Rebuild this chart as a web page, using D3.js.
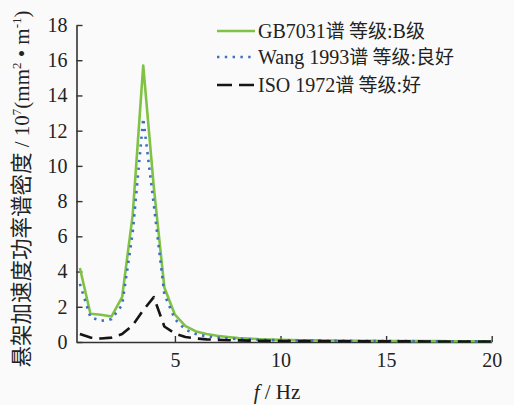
<!DOCTYPE html>
<html>
<head>
<meta charset="utf-8">
<script src="https://cdn.jsdelivr.net/npm/d3@7"></script>
<style>
  html, body { margin: 0; padding: 0; background: #fafafa; }
  svg { display: block; }
  text { font-family: "Liberation Serif", "Times New Roman", Times, "DejaVu Serif", serif; fill: #222; }
  .cjk { font-family: "Noto Sans CJK SC", sans-serif; }
</style>
</head>
<body>
<script>
const width = 514, height = 405;

// frequency points (Hz)
const freq = [0.5, 1, 1.5, 2, 2.5, 3, 3.5, 4, 4.5, 5, 5.5, 6, 6.5, 7, 7.5, 8, 8.5, 9, 9.5, 10,
  10.5, 11, 11.5, 12, 12.5, 13, 13.5, 14, 14.5, 15, 15.5, 16, 16.5, 17, 17.5, 18, 18.5, 19, 19.5, 20];

// PSD values, 10^7 (mm^2·m^-1)
const gb7031 = [4.2, 1.6, 1.55, 1.45, 2.55, 7.2, 15.7, 8.8, 3.1, 1.55, 0.9, 0.6, 0.45, 0.35, 0.28, 0.22, 0.19, 0.16, 0.14, 0.12,
  0.11, 0.1, 0.095, 0.09, 0.085, 0.08, 0.075, 0.07, 0.065, 0.06, 0.058, 0.055, 0.052, 0.05, 0.048, 0.046, 0.044, 0.042, 0.04, 0.04];
const wang1993 = [3.3, 1.4, 1.2, 1.3, 2.1, 6.2, 12.7, 7.8, 2.7, 1.3, 0.7, 0.45, 0.32, 0.25, 0.2, 0.17, 0.15, 0.13, 0.11, 0.1,
  0.09, 0.085, 0.08, 0.075, 0.07, 0.065, 0.06, 0.058, 0.055, 0.052, 0.05, 0.048, 0.046, 0.044, 0.042, 0.04, 0.038, 0.037, 0.036, 0.035];
const iso1972 = [0.45, 0.25, 0.2, 0.25, 0.45, 0.95, 1.8, 2.55, 0.88, 0.48, 0.28, 0.2, 0.15, 0.12, 0.1, 0.09, 0.08, 0.07, 0.065, 0.06,
  0.055, 0.05, 0.048, 0.046, 0.044, 0.042, 0.04, 0.038, 0.037, 0.036, 0.035, 0.034, 0.033, 0.032, 0.031, 0.03, 0.03, 0.03, 0.03, 0.03];

const xTicks = [5, 10, 15, 20];
const yTicks = [0, 2, 4, 6, 8, 10, 12, 14, 16, 18];

// legend text split into latin / chinese pieces so each gets its own font
const legendParts = [
  [["GB7031", 0], ["谱 等级", 1], [":B", 0], ["级", 1]],
  [["Wang 1993", 0], ["谱 等级", 1], [":", 0], ["良好", 1]],
  [["ISO 1972", 0], ["谱 等级", 1], [":", 0], ["好", 1]]
];

const series = [
  { values: gb7031, color: "#80c244", width: 2.6, dash: null },
  { values: wang1993, color: "#3b6fc4", width: 2.6, dash: "2.4,5.4" },
  { values: iso1972, color: "#151515", width: 2.6, dash: "13,7" }
];

const svg = d3.select("body").append("svg")
  .attr("width", width)
  .attr("height", height);

const x = d3.scaleLinear().domain([0.34, 20]).range([76.5, 491.7]);
const y = d3.scaleLinear().domain([0, 18]).range([342, 25]);

// axes
const axisColor = "#333";
const xAxis = svg.append("g")
  .attr("transform", `translate(0,${y(0)})`)
  .call(d3.axisBottom(x).tickValues(xTicks).tickSize(-6).tickSizeOuter(0).tickPadding(10));
const yAxis = svg.append("g")
  .attr("transform", `translate(${x.range()[0]},0)`)
  .call(d3.axisLeft(y).tickValues(yTicks).tickSize(-6).tickSizeOuter(0).tickPadding(10));

[xAxis, yAxis].forEach(g => {
  g.attr("font-family", null);
  g.select(".domain").attr("stroke", axisColor).attr("stroke-width", 1.6);
  g.selectAll(".tick line").attr("stroke", axisColor).attr("stroke-width", 1.4);
  g.selectAll(".tick text")
    .attr("font-size", 20)
    .attr("fill", "#222");
});
yAxis.selectAll(".tick text").attr("dx", 1);
xAxis.selectAll(".tick text").attr("dy", "0.76em");

// curves
const line = d3.line()
  .x((d, i) => x(freq[i]))
  .y(d => y(d));

series.forEach(s => {
  svg.append("path")
    .datum(s.values)
    .attr("fill", "none")
    .attr("stroke", s.color)
    .attr("stroke-width", s.width)
    .attr("stroke-dasharray", s.dash)
    .attr("stroke-linejoin", "round")
    .attr("d", line);
});

// legend
const legendY = [31, 57, 85];
const legend = svg.append("g");
series.forEach((s, i) => {
  legend.append("line")
    .attr("x1", 217).attr("x2", 255)
    .attr("y1", legendY[i]).attr("y2", legendY[i])
    .attr("stroke", s.color)
    .attr("stroke-width", s.width)
    .attr("stroke-dasharray", i === 2 ? "15,7" : s.dash);
  const t = legend.append("text")
    .attr("x", 258)
    .attr("y", legendY[i] + 7)
    .attr("font-size", 20);
  legendParts[i].forEach(([str, isCjk]) => {
    t.append("tspan")
      .attr("class", isCjk ? "cjk" : null)
      .attr("font-size", isCjk ? 19 : 20)
      .text(str);
  });
});

// axis titles
const xTitle = svg.append("text")
  .attr("x", 277)
  .attr("y", 399)
  .attr("text-anchor", "middle")
  .attr("font-size", 21);
xTitle.append("tspan").attr("font-style", "italic").text("f");
xTitle.append("tspan").text(" / Hz");

const yTitle = svg.append("text")
  .attr("transform", "translate(29,189) rotate(-90)")
  .attr("text-anchor", "middle")
  .attr("font-size", 21);
yTitle.append("tspan").attr("class", "cjk").attr("font-size", 21.5).text("悬架加速度功率谱密度");
yTitle.append("tspan").text(" / 10");
yTitle.append("tspan").attr("font-size", 13).attr("dy", -8).text("7");
yTitle.append("tspan").attr("dy", 8).text("(mm");
yTitle.append("tspan").attr("font-size", 13).attr("dy", -8).text("2");
yTitle.append("tspan").attr("dy", 8).text(" • m");
yTitle.append("tspan").attr("font-size", 13).attr("dy", -8).text("-1");
yTitle.append("tspan").attr("dy", 8).text(")");
</script>
</body>
</html>
